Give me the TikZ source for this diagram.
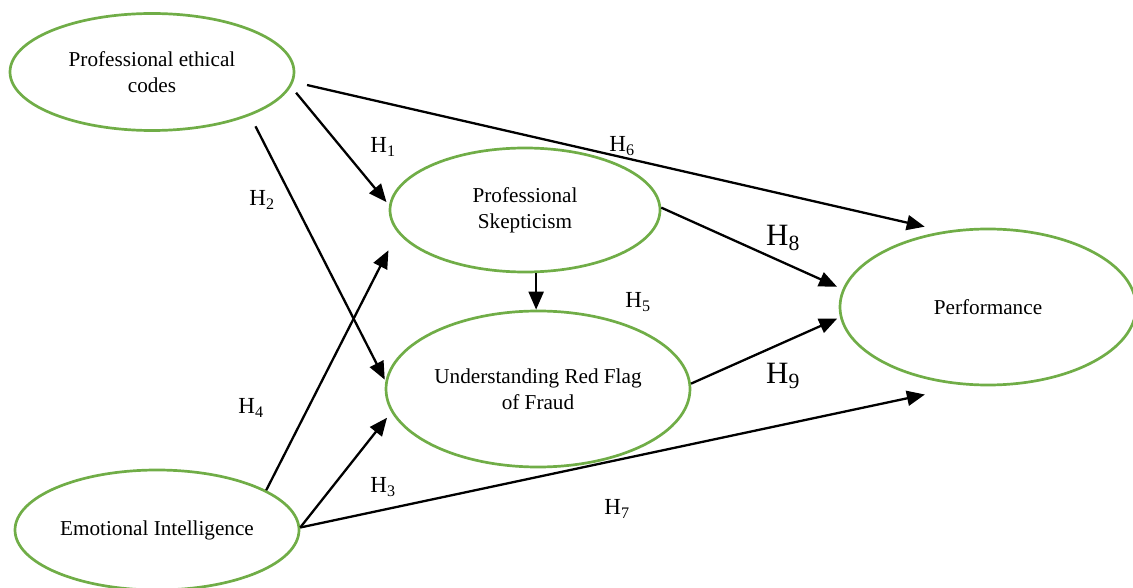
\documentclass[tikz,border=0pt]{standalone}
\usepackage{fontspec}
\setmainfont{Liberation Serif}
\usetikzlibrary{shapes.geometric,arrows.meta}
\definecolor{ovalgreen}{RGB}{112,173,71}
\begin{document}
\begin{tikzpicture}[x=1pt,y=-1pt,
oval/.style={ellipse,draw=ovalgreen,line width=2.7pt,inner sep=0pt,align=center,font=\fontsize{21.2}{26}\selectfont},
arr/.style={line width=2.3pt,-{Triangle[length=18pt,width=15pt]}},
hyp/.style={font=\fontsize{23}{26}\selectfont},
bighyp/.style={font=\fontsize{31}{34}\selectfont}]
\useasboundingbox (0,0) rectangle (1133,588);
\node[oval,minimum width=284pt,minimum height=117pt] (pec) at (152,72) {Professional ethical\\codes};
\node[oval,minimum width=270pt,minimum height=124pt] (ps) at (525,210) {Professional\\Skepticism};
\node[oval,minimum width=304pt,minimum height=156pt] (rf) at (538,389) {Understanding Red Flag\\of Fraud};
\node[oval,minimum width=296pt,minimum height=156pt] (perf) at (988,307) {Performance};
\node[oval,minimum width=284pt,minimum height=120pt] (ei) at (157,530) {Emotional Intelligence};
% hypotheses
\draw[arr,shorten <=8pt,shorten >=4pt] (pec.-6) -- (ps.178);
\draw[arr,shorten <=12pt,shorten >=1.5pt] (pec.-24) -- (rf.177);
\draw[arr,shorten >=7pt] (ei.1) -- (rf.189);
\draw[arr,shorten >=20pt] (ei.20) -- (ps.190);
\draw[arr] (ps.-80) -- (ps.-80 |- rf.north);
\draw[arr,shorten <=14pt,shorten >=20pt] (pec.-4) -- (perf.120);
\draw[arr,shorten >=43pt] (ei.1) -- (perf.255);
\draw[arr,shorten >=6pt] (ps.1) -- (perf.173);
\draw[arr,shorten >=3pt] (rf.2) -- (perf.184);
\node[hyp] (h1) at (383,147) {H\textsubscript{1}};
\node[hyp] (h2) at (262,200) {H\textsubscript{2}};
\node[hyp] (h3) at (383,487) {H\textsubscript{3}};
\node[hyp] (h4) at (251,408) {H\textsubscript{4}};
\node[hyp] (h5) at (638,302) {H\textsubscript{5}};
\node[hyp] (h6) at (622,146) {H\textsubscript{6}};
\node[hyp] (h7) at (617,509) {H\textsubscript{7}};
\node[bighyp] (h8) at (783,238) {H\textsubscript{8}};
\node[bighyp] (h9) at (783,376) {H\textsubscript{9}};
\end{tikzpicture}
\end{document}
